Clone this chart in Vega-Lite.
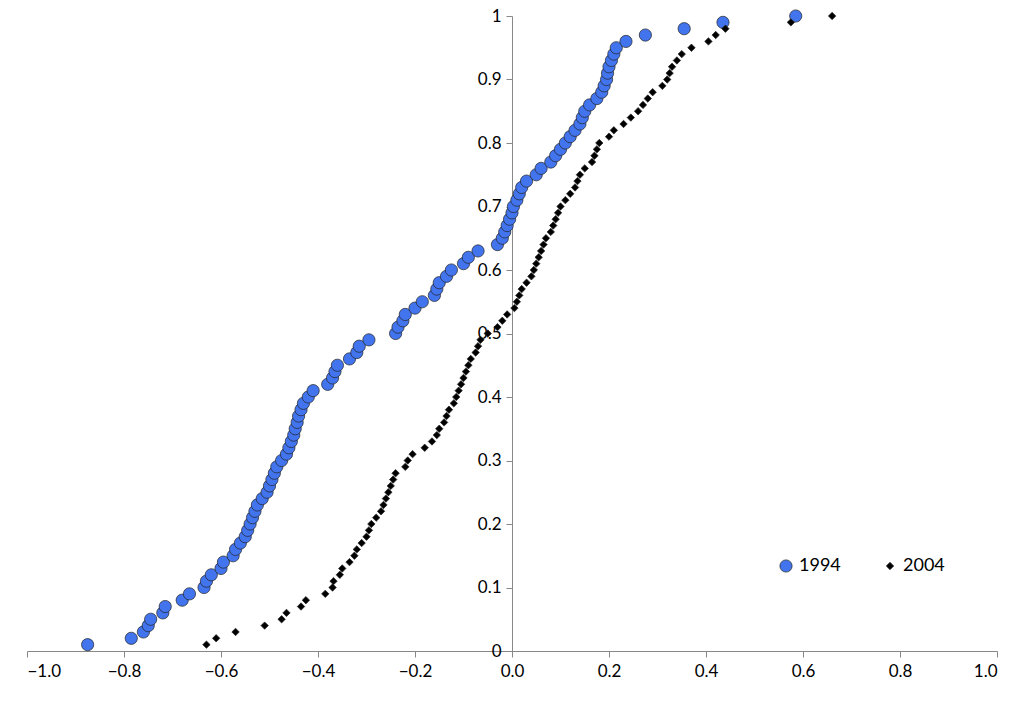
{
"$schema":"https://vega.github.io/schema/vega-lite/v6.json",
"width":970,"height":635,
"autosize":{"type":"none"},
"padding":{"left":27,"top":16,"right":20,"bottom":53},
"config":{"view":{"stroke":null},"font":"Lato","axis":{"grid":false,"labelFont":"Lato","labelFontSize":17,"labelColor":"#000","domainColor":"#888","tickColor":"#888","title":null},
"legend":{"title":null,"orient":"none","direction":"horizontal","legendX":750,"legendY":541,"labelFontSize":18,"labelFont":"Lato","labelColor":"#000","columnPadding":40,"labelOffset":4,"symbolStrokeColor":"#222","symbolStrokeWidth":0.7}},
"data":{"values":[
{"s":"1994","x":-0.875,"y":0.01},{"s":"1994","x":-0.785,"y":0.02},{"s":"1994","x":-0.76,"y":0.03},{"s":"1994","x":-0.75,"y":0.04},{"s":"1994","x":-0.745,"y":0.05},{"s":"1994","x":-0.72,"y":0.06},{"s":"1994","x":-0.715,"y":0.07},{"s":"1994","x":-0.68,"y":0.08},{"s":"1994","x":-0.665,"y":0.09},{"s":"1994","x":-0.635,"y":0.10},{"s":"1994","x":-0.63,"y":0.11},{"s":"1994","x":-0.62,"y":0.12},{"s":"1994","x":-0.6,"y":0.13},{"s":"1994","x":-0.595,"y":0.14},{"s":"1994","x":-0.575,"y":0.15},{"s":"1994","x":-0.57,"y":0.16},{"s":"1994","x":-0.56,"y":0.17},{"s":"1994","x":-0.55,"y":0.18},{"s":"1994","x":-0.545,"y":0.19},{"s":"1994","x":-0.54,"y":0.20},{"s":"1994","x":-0.535,"y":0.21},{"s":"1994","x":-0.53,"y":0.22},{"s":"1994","x":-0.525,"y":0.23},{"s":"1994","x":-0.515,"y":0.24},{"s":"1994","x":-0.505,"y":0.25},{"s":"1994","x":-0.5,"y":0.26},{"s":"1994","x":-0.495,"y":0.27},{"s":"1994","x":-0.49,"y":0.28},{"s":"1994","x":-0.485,"y":0.29},{"s":"1994","x":-0.475,"y":0.30},{"s":"1994","x":-0.465,"y":0.31},{"s":"1994","x":-0.46,"y":0.32},{"s":"1994","x":-0.455,"y":0.33},{"s":"1994","x":-0.45,"y":0.34},{"s":"1994","x":-0.447,"y":0.35},{"s":"1994","x":-0.443,"y":0.36},{"s":"1994","x":-0.44,"y":0.37},{"s":"1994","x":-0.435,"y":0.38},{"s":"1994","x":-0.43,"y":0.39},{"s":"1994","x":-0.42,"y":0.40},{"s":"1994","x":-0.41,"y":0.41},{"s":"1994","x":-0.38,"y":0.42},{"s":"1994","x":-0.37,"y":0.43},{"s":"1994","x":-0.365,"y":0.44},{"s":"1994","x":-0.36,"y":0.45},{"s":"1994","x":-0.335,"y":0.46},{"s":"1994","x":-0.32,"y":0.47},{"s":"1994","x":-0.315,"y":0.48},{"s":"1994","x":-0.295,"y":0.49},{"s":"1994","x":-0.24,"y":0.50},{"s":"1994","x":-0.235,"y":0.51},{"s":"1994","x":-0.225,"y":0.52},{"s":"1994","x":-0.22,"y":0.53},{"s":"1994","x":-0.2,"y":0.54},{"s":"1994","x":-0.185,"y":0.55},{"s":"1994","x":-0.16,"y":0.56},{"s":"1994","x":-0.155,"y":0.57},{"s":"1994","x":-0.15,"y":0.58},{"s":"1994","x":-0.135,"y":0.59},{"s":"1994","x":-0.125,"y":0.60},{"s":"1994","x":-0.1,"y":0.61},{"s":"1994","x":-0.09,"y":0.62},{"s":"1994","x":-0.07,"y":0.63},{"s":"1994","x":-0.03,"y":0.64},{"s":"1994","x":-0.02,"y":0.65},{"s":"1994","x":-0.015,"y":0.66},{"s":"1994","x":-0.01,"y":0.67},{"s":"1994","x":-0.005,"y":0.68},{"s":"1994","x":0.0,"y":0.69},{"s":"1994","x":0.003,"y":0.70},{"s":"1994","x":0.01,"y":0.71},{"s":"1994","x":0.015,"y":0.72},{"s":"1994","x":0.02,"y":0.73},{"s":"1994","x":0.03,"y":0.74},{"s":"1994","x":0.05,"y":0.75},{"s":"1994","x":0.06,"y":0.76},{"s":"1994","x":0.08,"y":0.77},{"s":"1994","x":0.09,"y":0.78},{"s":"1994","x":0.1,"y":0.79},{"s":"1994","x":0.11,"y":0.80},{"s":"1994","x":0.12,"y":0.81},{"s":"1994","x":0.13,"y":0.82},{"s":"1994","x":0.14,"y":0.83},{"s":"1994","x":0.145,"y":0.84},{"s":"1994","x":0.15,"y":0.85},{"s":"1994","x":0.16,"y":0.86},{"s":"1994","x":0.175,"y":0.87},{"s":"1994","x":0.185,"y":0.88},{"s":"1994","x":0.19,"y":0.89},{"s":"1994","x":0.195,"y":0.90},{"s":"1994","x":0.197,"y":0.91},{"s":"1994","x":0.2,"y":0.92},{"s":"1994","x":0.205,"y":0.93},{"s":"1994","x":0.21,"y":0.94},{"s":"1994","x":0.215,"y":0.95},{"s":"1994","x":0.235,"y":0.96},{"s":"1994","x":0.275,"y":0.97},{"s":"1994","x":0.355,"y":0.98},{"s":"1994","x":0.435,"y":0.99},{"s":"1994","x":0.585,"y":1.0},
{"s":"2004","x":-0.63,"y":0.01},{"s":"2004","x":-0.61,"y":0.02},{"s":"2004","x":-0.57,"y":0.03},{"s":"2004","x":-0.51,"y":0.04},{"s":"2004","x":-0.475,"y":0.05},{"s":"2004","x":-0.465,"y":0.06},{"s":"2004","x":-0.435,"y":0.07},{"s":"2004","x":-0.425,"y":0.08},{"s":"2004","x":-0.385,"y":0.09},{"s":"2004","x":-0.37,"y":0.10},{"s":"2004","x":-0.368,"y":0.11},{"s":"2004","x":-0.355,"y":0.12},{"s":"2004","x":-0.35,"y":0.13},{"s":"2004","x":-0.335,"y":0.14},{"s":"2004","x":-0.325,"y":0.15},{"s":"2004","x":-0.32,"y":0.16},{"s":"2004","x":-0.31,"y":0.17},{"s":"2004","x":-0.3,"y":0.18},{"s":"2004","x":-0.295,"y":0.19},{"s":"2004","x":-0.29,"y":0.20},{"s":"2004","x":-0.28,"y":0.21},{"s":"2004","x":-0.27,"y":0.22},{"s":"2004","x":-0.265,"y":0.23},{"s":"2004","x":-0.26,"y":0.24},{"s":"2004","x":-0.255,"y":0.25},{"s":"2004","x":-0.25,"y":0.26},{"s":"2004","x":-0.245,"y":0.27},{"s":"2004","x":-0.24,"y":0.28},{"s":"2004","x":-0.22,"y":0.29},{"s":"2004","x":-0.215,"y":0.30},{"s":"2004","x":-0.205,"y":0.31},{"s":"2004","x":-0.18,"y":0.32},{"s":"2004","x":-0.165,"y":0.33},{"s":"2004","x":-0.155,"y":0.34},{"s":"2004","x":-0.15,"y":0.35},{"s":"2004","x":-0.14,"y":0.36},{"s":"2004","x":-0.135,"y":0.37},{"s":"2004","x":-0.13,"y":0.38},{"s":"2004","x":-0.12,"y":0.39},{"s":"2004","x":-0.115,"y":0.40},{"s":"2004","x":-0.11,"y":0.41},{"s":"2004","x":-0.105,"y":0.42},{"s":"2004","x":-0.1,"y":0.43},{"s":"2004","x":-0.095,"y":0.44},{"s":"2004","x":-0.09,"y":0.45},{"s":"2004","x":-0.085,"y":0.46},{"s":"2004","x":-0.075,"y":0.47},{"s":"2004","x":-0.07,"y":0.48},{"s":"2004","x":-0.065,"y":0.49},{"s":"2004","x":-0.05,"y":0.50},{"s":"2004","x":-0.03,"y":0.51},{"s":"2004","x":-0.02,"y":0.52},{"s":"2004","x":-0.01,"y":0.53},{"s":"2004","x":0.005,"y":0.54},{"s":"2004","x":0.01,"y":0.55},{"s":"2004","x":0.015,"y":0.56},{"s":"2004","x":0.02,"y":0.57},{"s":"2004","x":0.03,"y":0.58},{"s":"2004","x":0.04,"y":0.59},{"s":"2004","x":0.045,"y":0.60},{"s":"2004","x":0.05,"y":0.61},{"s":"2004","x":0.055,"y":0.62},{"s":"2004","x":0.06,"y":0.63},{"s":"2004","x":0.065,"y":0.64},{"s":"2004","x":0.07,"y":0.65},{"s":"2004","x":0.08,"y":0.66},{"s":"2004","x":0.085,"y":0.67},{"s":"2004","x":0.09,"y":0.68},{"s":"2004","x":0.095,"y":0.69},{"s":"2004","x":0.1,"y":0.70},{"s":"2004","x":0.11,"y":0.71},{"s":"2004","x":0.12,"y":0.72},{"s":"2004","x":0.13,"y":0.73},{"s":"2004","x":0.135,"y":0.74},{"s":"2004","x":0.14,"y":0.75},{"s":"2004","x":0.15,"y":0.76},{"s":"2004","x":0.165,"y":0.77},{"s":"2004","x":0.17,"y":0.78},{"s":"2004","x":0.175,"y":0.79},{"s":"2004","x":0.18,"y":0.80},{"s":"2004","x":0.2,"y":0.81},{"s":"2004","x":0.21,"y":0.82},{"s":"2004","x":0.23,"y":0.83},{"s":"2004","x":0.245,"y":0.84},{"s":"2004","x":0.26,"y":0.85},{"s":"2004","x":0.27,"y":0.86},{"s":"2004","x":0.28,"y":0.87},{"s":"2004","x":0.29,"y":0.88},{"s":"2004","x":0.31,"y":0.89},{"s":"2004","x":0.32,"y":0.90},{"s":"2004","x":0.325,"y":0.91},{"s":"2004","x":0.33,"y":0.92},{"s":"2004","x":0.34,"y":0.93},{"s":"2004","x":0.35,"y":0.94},{"s":"2004","x":0.37,"y":0.95},{"s":"2004","x":0.405,"y":0.96},{"s":"2004","x":0.42,"y":0.97},{"s":"2004","x":0.44,"y":0.98},{"s":"2004","x":0.575,"y":0.99},{"s":"2004","x":0.66,"y":1.0}
]},
"mark":{"type":"point","filled":true,"stroke":"#222","strokeWidth":0.7,"opacity":1},
"encoding":{
"x":{"field":"x","type":"quantitative","scale":{"domain":[-1,1],"nice":false,"zero":false},"axis":{"values":[-1,-0.8,-0.6,-0.4,-0.2,0,0.2,0.4,0.6,0.8,1],"format":".1f","tickSize":6,"labelPadding":6}},
"y":{"field":"y","type":"quantitative","scale":{"domain":[0,1],"nice":false},"axis":{"orient":"left","offset":-485,"values":[0,0.1,0.2,0.3,0.4,0.5,0.6,0.7,0.8,0.9,1],"format":".1~f","tickSize":6,"labelPadding":5}},
"shape":{"field":"s","type":"nominal","scale":{"domain":["1994","2004"],"range":["circle","diamond"]}},
"color":{"field":"s","type":"nominal","scale":{"domain":["1994","2004"],"range":["#4274ee","#000000"]}},
"size":{"field":"s","type":"nominal","scale":{"domain":["1994","2004"],"range":[150,55]}}
}
}
